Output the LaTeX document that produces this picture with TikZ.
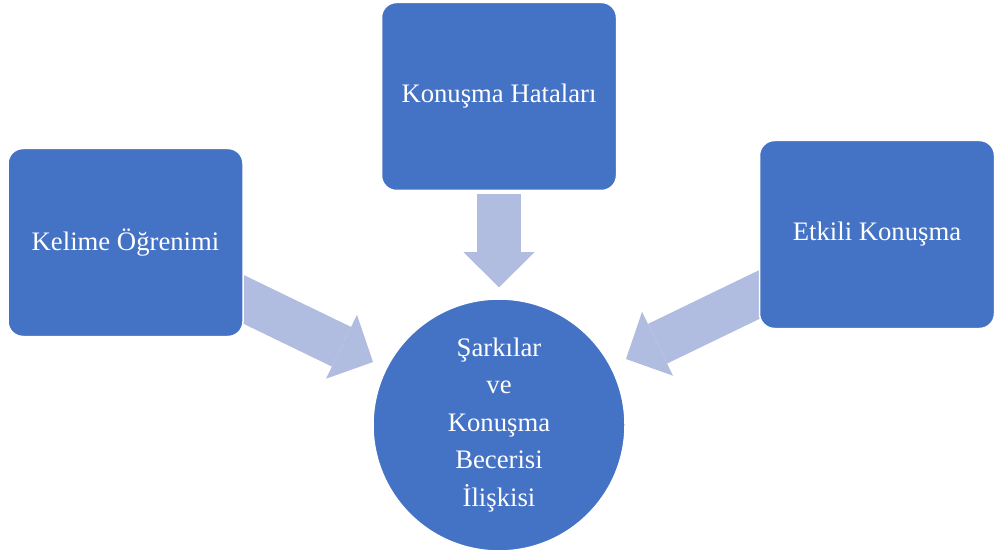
\documentclass[tikz,border=0pt]{standalone}
\usepackage{fontspec}
\setmainfont{Liberation Serif}
\usetikzlibrary{shapes,arrows.meta,calc,positioning,backgrounds}
\usepackage{xcolor}
\definecolor{boxblue}{RGB}{68,114,196}
\definecolor{arrowblue}{RGB}{176,188,224}

\begin{document}
\begin{tikzpicture}[x=0.5pt,y=-0.5pt,
	  every node/.style={align=center,text=white,font=\fontsize{13.35}{18.75}\selectfont},
	  topic/.style={draw=white,line width=0.75pt,fill=boxblue,rounded corners=7.5pt,minimum width=117.5pt,minimum height=94pt},
	  hub/.style={circle,draw=white,line width=0.75pt,fill=boxblue,minimum size=126pt,inner sep=0pt},
	  feed/.style={draw=arrowblue,line width=22pt,-{Triangle[length=17.5pt,width=35.5pt,line width=0pt]}}]

	  \useasboundingbox (0,0) rectangle (994,550);
	  % Position the nodes at pixel coordinates
	  \node[hub] (sarki) at (499,425) {Şarkılar\\ve\\Konuşma\\Becerisi\\İlişkisi};
	  \node[topic] (kelime) at (125.5,242.5) {Kelime Öğrenimi};
	  \node[topic] (hata) at (499,96.5) {Konuşma Hataları};
	  \node[topic] (etkili) at (877,234.5) {Etkili Konuşma};
	  % Block arrows behind the boxes
	  \begin{scope}[on background layer]
	    \draw[feed] ($(kelime.south east)!0.2!(kelime.north east)+(-30,-14.4)$) -- ($(sarki.center)+(-126,-63)$);
	    \draw[feed] ($(hata.south)+(0,3)$) -- ($(sarki.north)+(0,-11)$);
	    \draw[feed] ($(etkili.south west)!0.18!(etkili.north west)+(30,-14.9)$) -- ($(sarki.center)+(127,-66)$);
	  \end{scope}
\end{tikzpicture}
\end{document}
